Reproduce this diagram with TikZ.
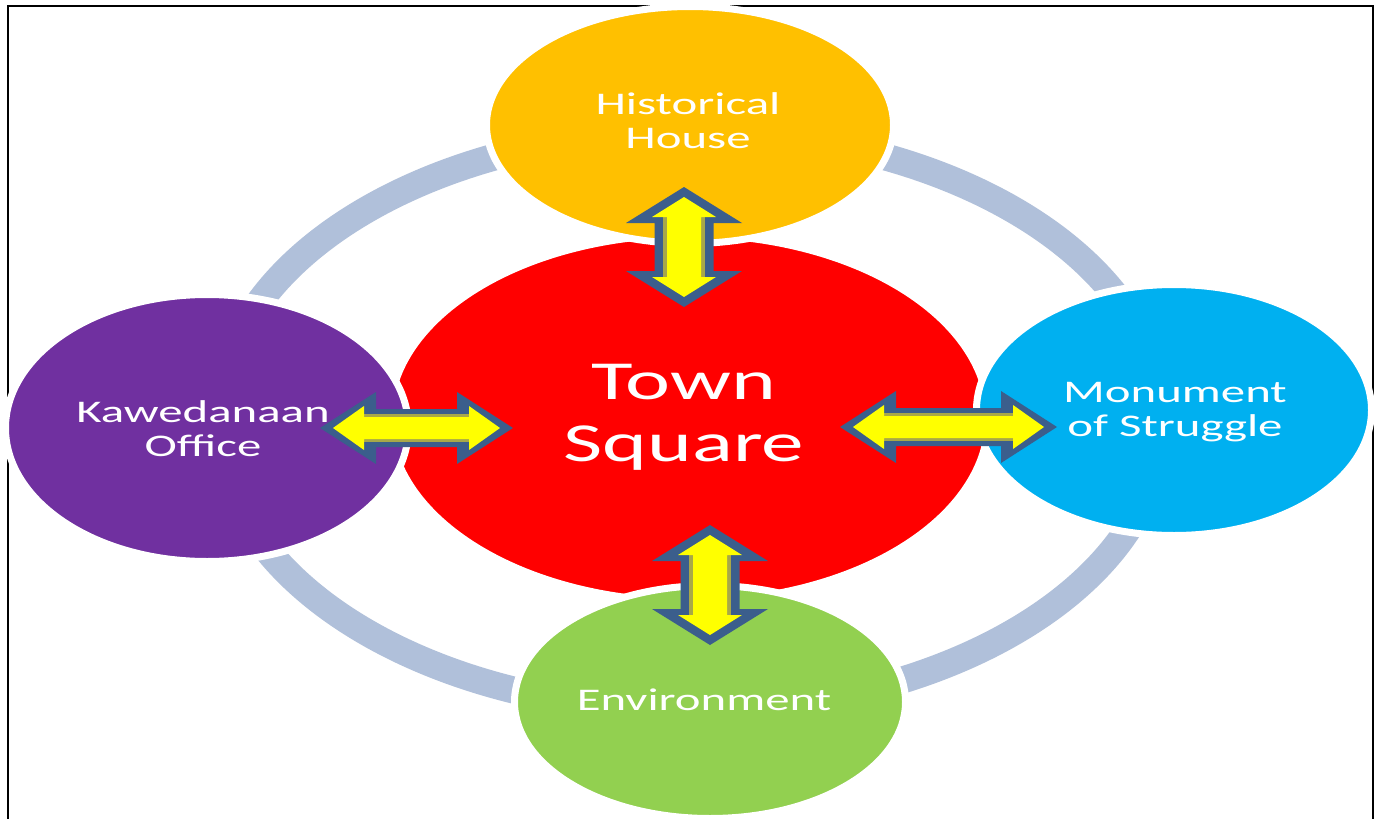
\documentclass[tikz,border=0pt]{standalone}
\usepackage{fontspec}
\newfontfamily\lblfont[FakeStretch=1.55]{Carlito}
\usetikzlibrary{shapes.geometric,calc}

\definecolor{ringblue}{HTML}{B0C0DA}
\definecolor{hsorange}{HTML}{FFC000}
\definecolor{tsred}{HTML}{FF0000}
\definecolor{kopurple}{HTML}{7030A0}
\definecolor{mosblue}{HTML}{00B0F0}
\definecolor{envgreen}{HTML}{92D050}
\definecolor{arrowedge}{HTML}{3B5E8C}
\definecolor{arrowfill}{HTML}{FFFF00}
\definecolor{arrowshade}{HTML}{A8A848}

\tikzset{
  bubble/.style={ellipse, draw=white, line width=7pt, inner sep=0pt},
  lbl/.style={text=white, align=center, inner sep=0pt,
              font=\lblfont\fontsize{31.5}{34}\selectfont},
  biglbl/.style={lbl, font=\lblfont\fontsize{55}{62}\selectfont}
}

% vertical double block arrow between two tip coordinates (top, bottom)
\newcommand\vblock[2]{%
  \fill[arrowedge] (#1) -- ($(#1)+(58,36)$) -- ($(#1)+(29.5,36)$)
    -- ($(#2)+(29.5,-36)$) -- ($(#2)+(58,-36)$) -- (#2)
    -- ($(#2)+(-58,-36)$) -- ($(#2)+(-29.5,-36)$)
    -- ($(#1)+(-29.5,36)$) -- ($(#1)+(-58,36)$) -- cycle;
  \fill[arrowshade] ($(#1)+(-21,30)$) rectangle ($(#2)+(21,-30)$);
  \fill[arrowfill] ($(#1)+(0,10)$) -- ($(#1)+(32,30)$) -- ($(#1)+(17,30)$)
    -- ($(#2)+(17,-30)$) -- ($(#2)+(32,-30)$) -- ($(#2)+(0,-10)$)
    -- ($(#2)+(-32,-30)$) -- ($(#2)+(-17,-30)$)
    -- ($(#1)+(-17,30)$) -- ($(#1)+(-32,30)$) -- cycle;}

% horizontal double block arrow between two tip coordinates (left, right)
\newcommand\hblock[2]{%
  \fill[arrowedge] (#1) -- ($(#1)+(56,-36)$) -- ($(#1)+(56,-19)$)
    -- ($(#2)+(-56,-19)$) -- ($(#2)+(-56,-36)$) -- (#2)
    -- ($(#2)+(-56,36)$) -- ($(#2)+(-56,19)$)
    -- ($(#1)+(56,19)$) -- ($(#1)+(56,36)$) -- cycle;
  \fill[arrowshade] ($(#1)+(44,-14)$) rectangle ($(#2)+(-44,14)$);
  \fill[arrowfill] ($(#1)+(13,0)$) -- ($(#1)+(44,-22)$) -- ($(#1)+(44,-11)$)
    -- ($(#2)+(-44,-11)$) -- ($(#2)+(-44,-22)$) -- ($(#2)+(-13,0)$)
    -- ($(#2)+(-44,22)$) -- ($(#2)+(-44,11)$)
    -- ($(#1)+(44,11)$) -- ($(#1)+(44,22)$) -- cycle;}

\begin{document}
\begin{tikzpicture}[x=1pt,y=-1pt]
\useasboundingbox (0,0) rectangle (1379,819);
\fill[white] (0,0) rectangle (1379,819);

% outer frame (open at the bottom)
\draw[line width=2.2pt] (7.7,819) -- (7.7,5.8) -- (1373,5.8) -- (1373,819);

% connecting ring behind the bubbles
\draw[ringblue, line width=27pt] (690,421) ellipse [x radius=472, y radius=290];

% bubbles
\node[bubble, fill=tsred, minimum width=599pt, minimum height=367pt] (town) at (689,418) {};
\node[bubble, fill=hsorange, minimum width=407pt, minimum height=237pt] (hist) at (690,125) {};
\node[bubble, fill=kopurple, minimum width=403pt, minimum height=267pt] (kaw) at (207,428) {};
\node[bubble, fill=mosblue, minimum width=395pt, minimum height=251pt] (mon) at (1174,410) {};
\node[bubble, fill=envgreen, minimum width=391pt, minimum height=233pt] (env) at (710,702) {};

% arrow tips
\coordinate (vt1) at (684,187);  \coordinate (vt2) at (684,307);
\coordinate (vb1) at (710,525);  \coordinate (vb2) at (710,645);
\coordinate (hl1) at (320,428);  \coordinate (hl2) at (513,428);
\coordinate (hr1) at (840,427);  \coordinate (hr2) at (1057,427);

\vblock{vt1}{vt2}
\vblock{vb1}{vb2}
\hblock{hl1}{hl2}
\hblock{hr1}{hr2}

% labels
\node[lbl] (hist-t) at (688,120.5) {Historical\\House};
\node[biglbl] (town-t) at (684,417) {Town\\Square};
\node[lbl] (kaw-t) at (203,429) {Kawedanaan\\Office};
\node[lbl] (mon-t) at (1175,412) {Monument\\of Struggle};
\node[lbl] (env-t) at (704,699.5) {Environment};
\end{tikzpicture}
\end{document}
